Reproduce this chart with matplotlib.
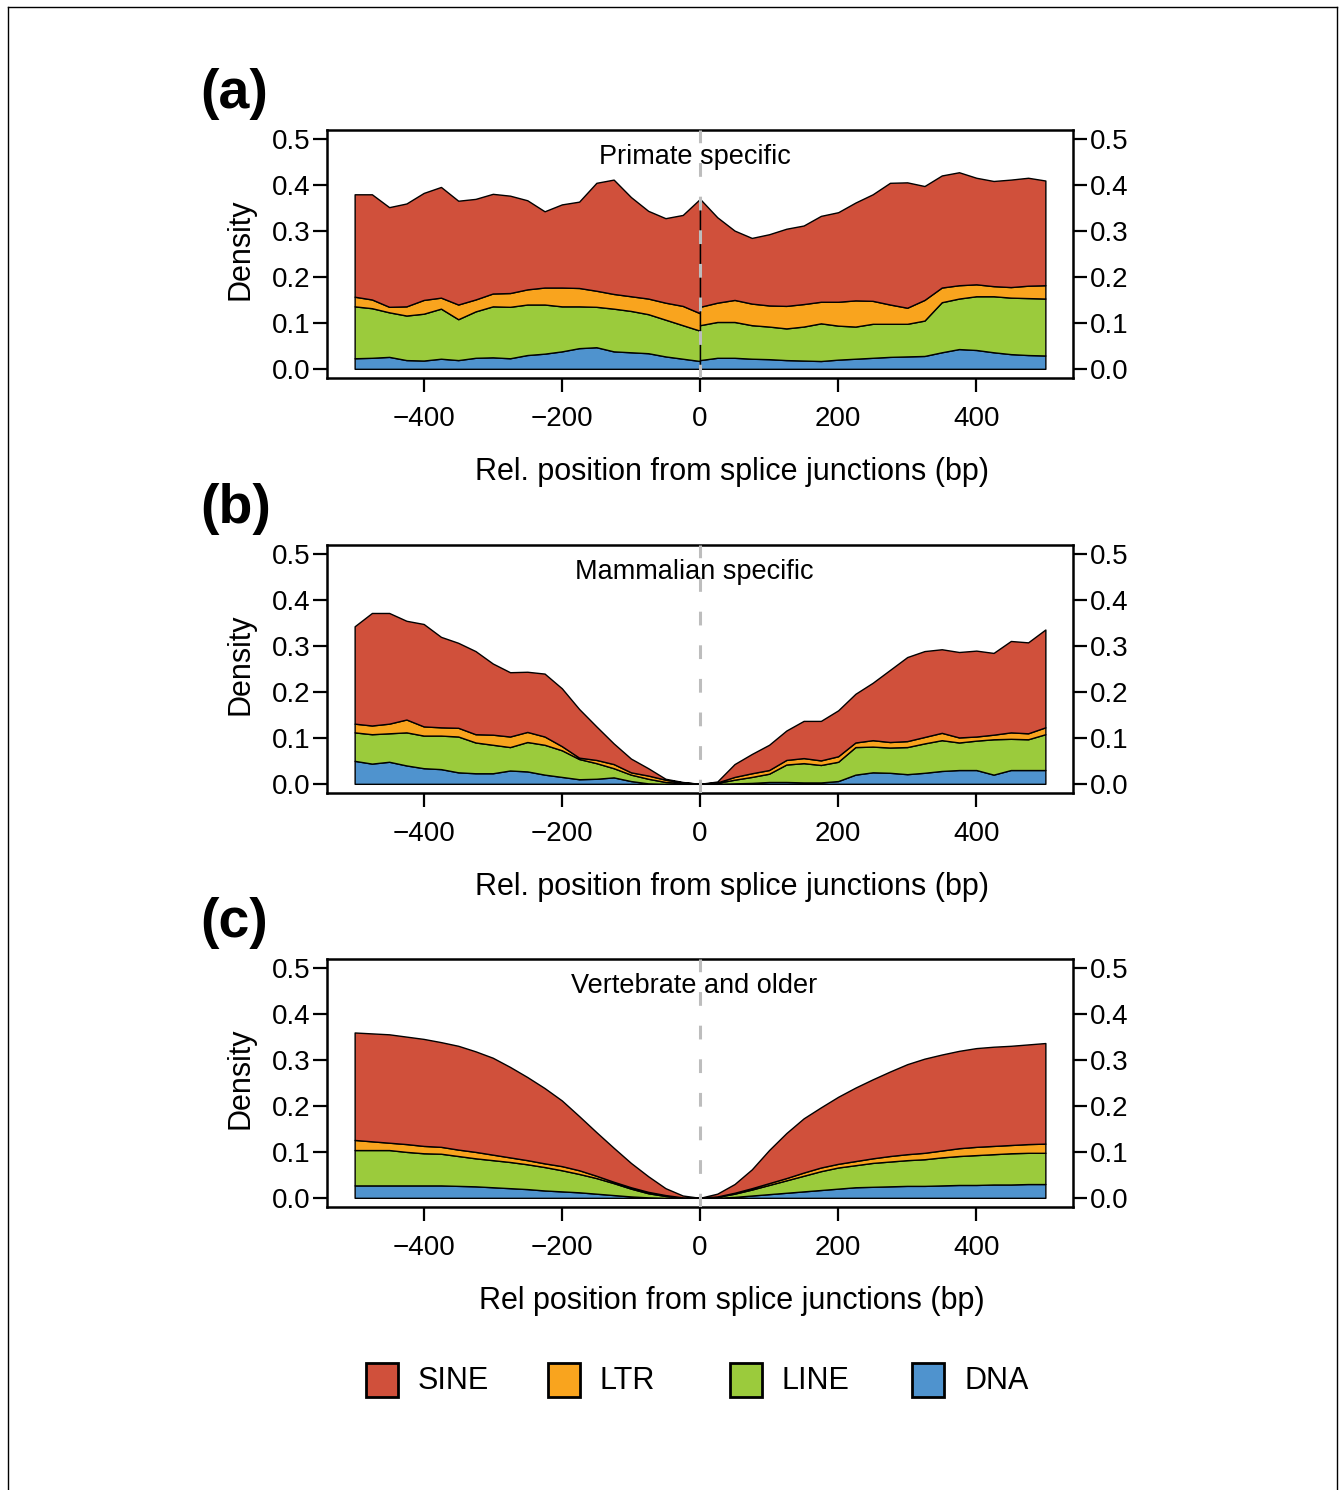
import numpy as np
import matplotlib
matplotlib.use("Agg")
import matplotlib.pyplot as plt
from matplotlib.patches import Rectangle

plt.rcParams['font.family'] = ['Liberation Sans', 'DejaVu Sans']

# x positions (bp), left and right of the splice junction
x_left = [-500, -475, -450, -425, -400, -375, -350, -325, -300, -275, -250,
          -225, -200, -175, -150, -125, -100, -75, -50, -25, 0]
x_right = [0, 25, 50, 75, 100, 125, 150, 175, 200, 225, 250,
           275, 300, 325, 350, 375, 400, 425, 450, 475, 500]

# (a) Primate specific
a_sine_l = [.223, .229, .217, .224, .233, .241, .226, .219, .217, .212, .194,
            .166, .181, .188, .235, .249, .216, .191, .184, .198, .249]
a_ltr_l = [.021, .019, .012, .020, .030, .024, .032, .026, .028, .030, .033,
           .037, .041, .040, .035, .032, .032, .034, .037, .042, .038]
a_line_l = [.113, .108, .097, .097, .102, .109, .089, .101, .111, .112, .110,
            .107, .098, .091, .088, .093, .090, .085, .080, .073, .066]
a_dna_l = [.023, .024, .026, .019, .018, .022, .019, .024, .025, .023, .030,
           .033, .038, .045, .047, .038, .036, .034, .027, .022, .017]
a_sine_r = [.235, .186, .151, .143, .155, .168, .171, .187, .195, .213, .232,
            .265, .273, .248, .244, .246, .232, .229, .234, .235, .228]
a_ltr_r = [.040, .042, .048, .047, .046, .049, .049, .047, .052, .057, .050,
           .042, .035, .045, .032, .029, .026, .022, .023, .027, .029]
a_line_r = [.076, .078, .078, .073, .071, .069, .074, .082, .074, .070, .074,
            .072, .071, .077, .109, .110, .117, .122, .123, .124, .124]
a_dna_r = [.019, .024, .024, .022, .021, .019, .018, .017, .020, .022, .024,
           .026, .027, .028, .036, .043, .041, .036, .032, .030, .029]

# (b) Mammalian specific
b_sine_l = [.212, .245, .241, .215, .223, .197, .185, .181, .155, .140, .131,
            .137, .126, .106, .073, .045, .030, .016, .002, .001, 0]
b_ltr_l = [.019, .019, .021, .028, .020, .018, .019, .018, .022, .023, .022,
           .018, .009, .003, .007, .009, .005, .007, .005, .001, 0]
b_line_l = [.062, .064, .062, .072, .071, .073, .078, .067, .062, .051, .064,
            .065, .058, .044, .034, .020, .014, .010, .004, .002, 0]
b_dna_l = [.050, .044, .048, .040, .034, .032, .025, .023, .023, .029, .027,
           .020, .015, .010, .011, .014, .006, .001, 0, 0, 0]
b_sine_r = [0, .002, .028, .042, .055, .064, .081, .086, .100, .106, .125,
            .157, .183, .187, .182, .186, .187, .178, .199, .198, .213]
b_ltr_r = [0, .001, .006, .008, .008, .010, .011, .010, .012, .010, .014,
           .012, .013, .014, .016, .011, .009, .010, .014, .013, .015]
b_line_r = [0, .002, .008, .013, .018, .038, .042, .038, .042, .060, .056,
            .055, .059, .064, .067, .060, .064, .077, .068, .067, .078]
b_dna_r = [0, 0, .001, .002, .004, .004, .003, .003, .006, .020, .025,
           .024, .021, .024, .028, .030, .030, .020, .030, .030, .030]

# (c) Vertebrate and older
c_sine_l = [.234, .235, .236, .234, .233, .228, .226, .219, .211, .197, .181,
            .164, .143, .118, .095, .074, .053, .034, .015, .004, 0]
c_ltr_l = [.022, .019, .016, .017, .016, .015, .014, .014, .012, .010, .009,
           .008, .009, .008, .005, .003, .003, .003, .002, 0, 0]
c_line_l = [.077, .077, .077, .073, .070, .069, .065, .061, .059, .057, .054,
            .051, .046, .040, .034, .026, .017, .009, .004, .001, 0]
c_dna_l = [.027, .027, .027, .027, .027, .027, .026, .025, .023, .021, .019,
           .016, .014, .012, .009, .006, .003, .001, 0, 0, 0]
c_sine_r = [0, .006, .019, .041, .072, .098, .118, .131, .146, .160, .172,
            .184, .196, .205, .209, .212, .215, .216, .216, .217, .219]
c_ltr_r = [0, .001, .002, .003, .004, .005, .007, .008, .008, .009, .010,
           .012, .013, .014, .015, .017, .018, .018, .018, .019, .020]
c_line_r = [0, .002, .007, .013, .020, .027, .034, .041, .046, .048, .052,
            .054, .056, .058, .061, .063, .065, .066, .068, .068, .068]
c_dna_r = [0, 0, .002, .005, .008, .011, .014, .017, .020, .023, .024,
           .025, .026, .026, .027, .028, .028, .029, .029, .030, .030]

names = ['SINE', 'LTR', 'LINE', 'DNA']
colors = ['#D0503B', '#F9A41E', '#9BCB3C', '#4F93CE']
titles = ['Primate specific', 'Mammalian specific', 'Vertebrate and older']
xlabels = ['Rel. position from splice junctions (bp)',
           'Rel. position from splice junctions (bp)',
           'Rel position from splice junctions (bp)']
tags = ['(a)', '(b)', '(c)']

panels = [
    (a_sine_l, a_ltr_l, a_line_l, a_dna_l, a_sine_r, a_ltr_r, a_line_r, a_dna_r),
    (b_sine_l, b_ltr_l, b_line_l, b_dna_l, b_sine_r, b_ltr_r, b_line_r, b_dna_r),
    (c_sine_l, c_ltr_l, c_line_l, c_dna_l, c_sine_r, c_ltr_r, c_line_r, c_dna_r),
]

W, H = 1339, 1490
fig = plt.figure(figsize=(W / 100, H / 100), dpi=100)

# outer frame
fig.add_artist(plt.Line2D([8 / W, 8 / W], [0, 1 - 7 / H], transform=fig.transFigure, color='k', lw=1))
fig.add_artist(plt.Line2D([8 / W, 1337 / W], [1 - 7 / H, 1 - 7 / H], transform=fig.transFigure, color='k', lw=1))
fig.add_artist(plt.Line2D([1337 / W, 1337 / W], [0, 1 - 7 / H], transform=fig.transFigure, color='k', lw=1))

box_tops = [130, 545, 959]
for i, p in enumerate(panels):
    top = box_tops[i]
    ax = fig.add_axes([327 / W, 1 - (top + 248) / H, 746 / W, 248 / H])
    sl, tl, ll, dl, sr, tr, lr, dr = p
    # stack from bottom: DNA, LINE, LTR, SINE
    ax.stackplot(x_left, dl, ll, tl, sl, colors=colors[::-1],
                 edgecolor='k', linewidth=1.0)
    ax.stackplot(x_right, dr, lr, tr, sr, colors=colors[::-1],
                 edgecolor='k', linewidth=1.0)
    ax.axvline(0, color='#BDBDBD', lw=2.2, dashes=(4.5, 6.5), zorder=5)
    ax.text(-8, 0.462, titles[i], ha='center', va='center', fontsize=19.5, zorder=6)
    ax.set_xlim(-540, 540)
    ax.set_ylim(-0.02, 0.52)
    ax.set_xticks([-400, -200, 0, 200, 400])
    ax.set_yticks([0.0, 0.1, 0.2, 0.3, 0.4, 0.5])
    ax.set_yticklabels(['0.0', '0.1', '0.2', '0.3', '0.4', '0.5'])
    ax.tick_params(axis='y', left=True, right=True, labelleft=True, labelright=True,
                   direction='out', length=10, width=1.6, pad=2, labelsize=20)
    ax.tick_params(axis='x', direction='out', length=10, width=1.6, pad=10, labelsize=20)
    for s in ax.spines.values():
        s.set_linewidth(1.8)
    # labels
    fig.text(241 / W, 1 - (top + 119) / H, 'Density', rotation=90,
             ha='center', va='center', fontsize=22)
    fig.text(732 / W, 1 - (top + 342) / H, xlabels[i], ha='center', va='center', fontsize=22)
    fig.text(200 / W, 1 - (top - 36) / H, tags[i], ha='left', va='center',
             fontsize=40, fontweight='bold')

# legend
for i, (n, c) in enumerate(zip(names, colors)):
    x0 = 366 + 182 * i
    fig.add_artist(Rectangle((x0 / W, 1 - 1397 / H), 32 / W, 34 / H,
                             transform=fig.transFigure, facecolor=c,
                             edgecolor='k', linewidth=2))
    fig.text((x0 + 52) / W, 1 - 1381 / H, n, ha='left', va='center', fontsize=22)

fig.savefig('out.png', dpi=100)
